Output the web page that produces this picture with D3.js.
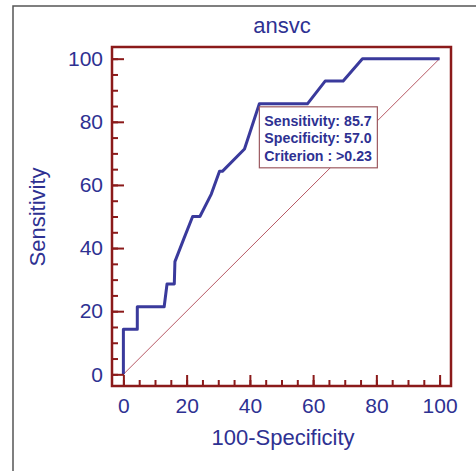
<!DOCTYPE html>
<html>
<head>
<meta charset="utf-8">
<script src="https://cdn.jsdelivr.net/npm/d3@7"></script>
<style>
  body { margin: 0; background: #fff; }
  svg { display: block; font-family: "Liberation Sans", Arial, sans-serif; }
</style>
</head>
<body>
<div id="container"></div>
<script>
// ROC curve: 100-specificity vs sensitivity
const fpr = [0, 0, 4.4, 4.4, 12.9, 13.8, 16.1, 16.3, 19.1, 21.9, 24.2, 27.8, 30.4, 31.3, 38.3, 43.0, 58.2, 63.8, 69.5, 75.6, 100];
const tpr = [0, 14.3, 14.3, 21.4, 21.4, 28.6, 28.6, 35.7, 42.9, 50.0, 50.0, 57.1, 64.3, 64.3, 71.4, 85.7, 85.7, 92.9, 92.9, 100, 100];
const majorTicks = [0, 20, 40, 60, 80, 100];
const minorTicks = d3.range(0, 101, 5);
const cutPoint = [43.0, 85.7];
const boxLines = ["Sensitivity: 85.7", "Specificity: 57.0", "Criterion : >0.23"];

const w = 476;
const h = 471;
const red = "#8b1a1a";
const blue = "#2e3192";

const svg = d3.select("#container")
  .append("svg")
  .attr("width", w)
  .attr("height", h);

// outer frame (only top/left visible)
svg.append("path")
  .attr("d", `M13,${h} L13,6 L${w},6`)
  .attr("fill", "none")
  .attr("stroke", "#555")
  .attr("stroke-width", 1.5);

const xScale = d3.scaleLinear().domain([-3.6, 103.6]).range([112, 451]);
const yScale = d3.scaleLinear().domain([-3.7, 103.7]).range([386, 47]);

// diagonal reference
svg.append("line")
  .attr("x1", xScale(0)).attr("y1", yScale(0))
  .attr("x2", xScale(100)).attr("y2", yScale(100))
  .attr("stroke", "#b85a66")
  .attr("stroke-width", 1);

// ROC curve
const line = d3.line()
  .x((d, i) => xScale(fpr[i]))
  .y((d, i) => yScale(tpr[i]));

svg.append("path")
  .datum(fpr)
  .attr("d", line)
  .attr("fill", "none")
  .attr("stroke", "#3a3a9c")
  .attr("stroke-width", 3)
  .attr("stroke-linejoin", "round");

// axes
function styleAxis(g) {
  g.select(".domain").remove();
  g.selectAll(".tick line").attr("stroke", red).attr("stroke-width", 2);
  g.selectAll(".tick text")
    .attr("fill", blue)
    .style("font-size", "21px")
    .style("font-family", "'Liberation Sans', Arial, sans-serif");
}

svg.append("g")
  .attr("transform", "translate(112,0)")
  .call(d3.axisLeft(yScale).tickValues(minorTicks).tickSize(-6).tickFormat(""))
  .call(styleAxis);

svg.append("g")
  .attr("transform", "translate(112,0)")
  .call(d3.axisLeft(yScale).tickValues(majorTicks).tickSize(-12).tickPadding(9))
  .call(styleAxis);

svg.append("g")
  .attr("transform", "translate(0,386)")
  .call(d3.axisBottom(xScale).tickValues(minorTicks).tickSize(-6).tickFormat(""))
  .call(styleAxis);

svg.append("g")
  .attr("transform", "translate(0,386)")
  .call(d3.axisBottom(xScale).tickValues(majorTicks).tickSize(-11).tickPadding(12))
  .call(styleAxis);

// plot frame
svg.append("rect")
  .attr("x", 112)
  .attr("y", 47)
  .attr("width", 451 - 112)
  .attr("height", 386 - 47)
  .attr("fill", "none")
  .attr("stroke", red)
  .attr("stroke-width", 2.5);

// criterion box
const bx = xScale(cutPoint[0]);
const by = yScale(cutPoint[1]) + 3;
svg.append("rect")
  .attr("x", bx)
  .attr("y", by)
  .attr("width", 118)
  .attr("height", 61)
  .attr("fill", "#fff")
  .attr("stroke", "#9c5a60")
  .attr("stroke-width", 1.2);

svg.selectAll(".boxline")
  .data(boxLines)
  .enter()
  .append("text")
  .attr("class", "boxline")
  .attr("x", bx + 5)
  .attr("y", (d, i) => by + 19 + i * 17.5)
  .attr("fill", blue)
  .style("font-size", "14.2px")
  .style("font-weight", "bold")
  .text(d => d);

// titles
svg.append("text")
  .attr("x", 282)
  .attr("y", 33)
  .attr("text-anchor", "middle")
  .attr("fill", blue)
  .style("font-size", "22px")
  .text("ansvc");

svg.append("text")
  .attr("x", 283)
  .attr("y", 445)
  .attr("text-anchor", "middle")
  .attr("fill", blue)
  .style("font-size", "22px")
  .text("100-Specificity");

svg.append("text")
  .attr("transform", "translate(45,217) rotate(-90)")
  .attr("text-anchor", "middle")
  .attr("fill", blue)
  .style("font-size", "22px")
  .text("Sensitivity");
</script>
</body>
</html>
